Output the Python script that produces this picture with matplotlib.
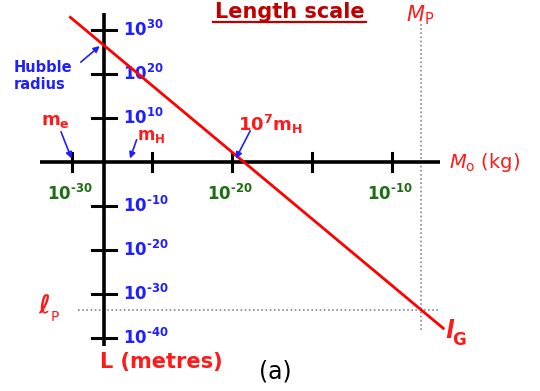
import matplotlib
matplotlib.use("Agg")
import matplotlib.pyplot as plt

# log10 values on the two axes
MASS_TICKS = [-30, -25, -20, -15, -10]
MASS_LABELED = [-30, -20, -10]
LENGTH_TICKS = [30, 20, 10, -10, -20, -30, -40]
AXIS_MASS = -28.0            # mass at which the length axis is drawn
MASS_SPAN = [-32.0, -7.0]    # extent of the mass axis
LENGTH_SPAN = [33.7, -41.8]  # extent of the length axis

# gravitational length line l_G
LINE_MASS = [-30.1, -6.8]
LINE_LENGTH = [32.8, -37.7]

PLANCK_MASS = -8.2
PLANCK_LENGTH = -33.5
HUBBLE_RADIUS = 26.5
M_ELECTRON = -30.0
M_HYDROGEN = -26.4
M_1E7_HYDROGEN = -19.8

RED = "#ff1a1a"
BLUE = "#1f1fff"
GREEN = "#1e6e14"
W, H = 540, 391


def fig_xy(x, y):
    return x / W, 1 - y / H


def power_label(exp):
    # short hyphen in the exponent instead of the math minus
    exp_txt = str(exp).replace("-", "\u2010")
    return rf"$\mathbf{{10^{{{exp_txt}}}}}$"


fig = plt.figure(figsize=(W / 100, H / 100), dpi=100)
ax = fig.add_axes([0, 0, 1, 1])
ax.set_xlim(-34.5, -34.5 + W / 16)
ax.set_ylim(162 / 4.41 - H / 4.41, 162 / 4.41)
ax.axis("off")

# axes
ax.plot(MASS_SPAN, [0, 0], color="black", lw=2.6, solid_capstyle="butt", zorder=3)
ax.plot([AXIS_MASS, AXIS_MASS], LENGTH_SPAN, color="black", lw=2.6, solid_capstyle="butt", zorder=3)
for m in MASS_TICKS:
    ax.plot([m, m], [-2.0, 2.0], color="black", lw=2.2, zorder=3)
for v in LENGTH_TICKS:
    ax.plot([AXIS_MASS - 0.72, AXIS_MASS + 0.72], [v, v], color="black", lw=2.2, zorder=3)

for v in LENGTH_TICKS:
    ax.annotate(power_label(v), xy=(AXIS_MASS, v), xytext=(19, -6),
                textcoords="offset pixels", ha="left", va="baseline",
                fontsize=12, color=BLUE)
for m in MASS_LABELED:
    ax.annotate(power_label(m), xy=(m, 0), xytext=(-2, -38),
                textcoords="offset pixels", ha="center", va="baseline",
                fontsize=12, color=GREEN)

# Planck mass / length guides
ax.plot([PLANCK_MASS, PLANCK_MASS], [(162 - 24) / 4.41, (162 - 330) / 4.41],
        color="#888888", lw=1.2, ls=(0, (1, 1.5)), zorder=1)
ax.plot([-34.5 + 78 / 16, -34.5 + 438 / 16], [PLANCK_LENGTH, PLANCK_LENGTH],
        color="#888888", lw=1.2, ls=(0, (1, 1.5)), zorder=1)

ax.plot(LINE_MASS, LINE_LENGTH, color="#ff0000", lw=2.0, zorder=4)

# arrows to marked points
arrow = dict(arrowstyle="-|>", color=BLUE, lw=1.2, mutation_scale=9, shrinkA=0, shrinkB=1)
ax.annotate("", xy=(AXIS_MASS - 0.2, HUBBLE_RADIUS), xytext=(-20, -17),
            textcoords="offset pixels", arrowprops=arrow, zorder=5)
ax.annotate("", xy=(M_ELECTRON, 0.5), xytext=(-11, 28),
            textcoords="offset pixels", arrowprops=arrow, zorder=5)
ax.annotate("", xy=(M_HYDROGEN, 0.5), xytext=(7, 20),
            textcoords="offset pixels", arrowprops=arrow, zorder=5)
ax.annotate("", xy=(M_1E7_HYDROGEN, 0.5), xytext=(15, 29),
            textcoords="offset pixels", arrowprops=arrow, zorder=5)

fig.text(*fig_xy(14, 76), "Hubble\nradius", ha="left", va="center", fontsize=10.5,
         fontweight="bold", color=BLUE, linespacing=1.1)
fig.text(*fig_xy(55, 121), r"$\mathbf{m_e}$", ha="center", va="center", fontsize=13, color=RED)
fig.text(*fig_xy(151, 136), r"$\mathbf{m_H}$", ha="center", va="center", fontsize=12, color=RED)
fig.text(*fig_xy(270, 124), r"$\mathbf{10^7m_H}$", ha="center", va="center", fontsize=13, color=RED)

# title with underline
fig.text(*fig_xy(290, 12), "Length scale", ha="center", va="center", fontsize=15,
         fontweight="bold", color="#c00000")
fig.add_artist(plt.Line2D([213 / W, 366 / W], [1 - 22 / H, 1 - 22 / H],
                          color="#c00000", lw=1.6))

fig.text(*fig_xy(420, 15), r"$M_\mathrm{P}$", ha="center", va="center", fontsize=15, color=RED)
fig.text(*fig_xy(449, 163), r"$M_\mathrm{o}$ (kg)", ha="left", va="center", fontsize=14, color=RED)

fig.text(*fig_xy(44, 306), "ℓ", ha="center", va="center", fontsize=18,
         fontweight="bold", style="italic", color=RED)
fig.text(*fig_xy(55, 317), "P", ha="center", va="center", fontsize=10, color=RED)
fig.text(*fig_xy(449, 331), "l", ha="center", va="center", fontsize=17,
         fontweight="bold", style="italic", color=RED)
fig.text(*fig_xy(459, 340), "G", ha="center", va="center", fontsize=12,
         fontweight="bold", color=RED)

fig.text(*fig_xy(161, 362), "L (metres)", ha="center", va="center", fontsize=15,
         fontweight="bold", color=RED)
fig.text(*fig_xy(275, 371), "(a)", ha="center", va="center", fontsize=17, color="black")

fig.savefig("out.png", dpi=100)
